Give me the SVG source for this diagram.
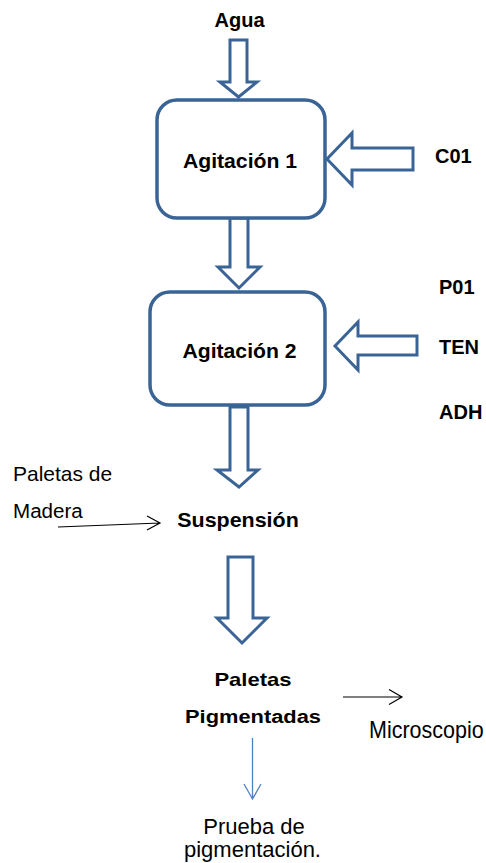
<svg xmlns="http://www.w3.org/2000/svg" width="486" height="863" viewBox="0 0 486 863">
<style>
text{font-family:"Liberation Sans",Arial,sans-serif;fill:#000}
.b{font-weight:bold;font-size:20px}
.r{font-size:20px}
.box{fill:#fff;stroke:#3A6495;stroke-width:3.5}
.blk{fill:#fff;stroke:#3A6495;stroke-width:3;stroke-linejoin:miter}
.thin{fill:none;stroke:#000;stroke-width:1.2}
.thinb{fill:none;stroke:#4F81BD;stroke-width:1.3}
</style>
<rect width="486" height="863" fill="#fff"/>
<g id="connectors">
<polygon class="blk" points="230,40 247,40 247,82 257,82 238.5,97 220,82 230,82"/>
<polygon class="blk" points="230,218 248,218 248,267 260,267 239,288 218,267 230,267"/>
<polygon class="blk" points="413,148 352,148 352,133 327,159 352,185 352,170 413,170"/>
<polygon class="blk" points="417,336 358,336 358,322 335,346 358,370 358,355 417,355"/>
<polygon class="blk" points="230,407 248,407 248,470 258,470 239,487 217,470 230,470"/>
<polygon class="blk" points="228,557 253,557 253,618 267,618 242,643 217,618 228,618"/>
<path class="thin" d="M58,527 L160,523 M147,516 L160,523 L147,530"/>
<path class="thin" d="M343,697 L402,697 M389,689.5 L402,697 L389,704.5"/>
<path class="thinb" d="M252.5,738 L252.5,799 M244,784 L252.5,799 L261,784"/>
</g>
<g id="agua"><text class="b" x="239.5" y="27" text-anchor="middle">Agua</text></g>
<g id="agitacion1">
<rect class="box" x="157" y="100" width="168" height="118" rx="20"/>
<text class="b" transform="translate(240 168) scale(1.06 1)" text-anchor="middle">Agitación 1</text>
</g>
<g id="c01"><text class="b" x="435" y="163">C01</text></g>
<g id="agitacion2">
<rect class="box" x="150" y="292" width="175" height="113" rx="20"/>
<text class="b" transform="translate(239.5 358) scale(1.06 1)" text-anchor="middle">Agitación 2</text>
</g>
<g id="p01"><text class="b" x="439" y="294">P01</text></g>
<g id="ten"><text class="b" x="439" y="354">TEN</text></g>
<g id="adh"><text class="b" x="439" y="419">ADH</text></g>
<g id="paletas-madera">
<text class="r" transform="translate(13 481) scale(1.05 1)">Paletas de</text>
<text class="r" transform="translate(13 518) scale(1.03 1)">Madera</text>
</g>
<g id="suspension"><text class="b" transform="translate(238 527) scale(1.1 1)" style="font-size:19.5px" text-anchor="middle">Suspensión</text></g>
<g id="paletas-pigmentadas">
<text class="b" transform="translate(253 686) scale(1.16 1)" style="font-size:19px" text-anchor="middle">Paletas</text>
<text class="b" transform="translate(253 723) scale(1.15 1)" style="font-size:19px" text-anchor="middle">Pigmentadas</text>
</g>
<g id="microscopio"><text transform="translate(369 738) scale(1 1.08)" style="font-size:21.5px">Microscopio</text></g>
<g id="prueba">
<text x="254" y="834" style="font-size:22px" text-anchor="middle">Prueba de</text>
<text x="252.5" y="857" style="font-size:22px" text-anchor="middle">pigmentación.</text>
</g>
</svg>
